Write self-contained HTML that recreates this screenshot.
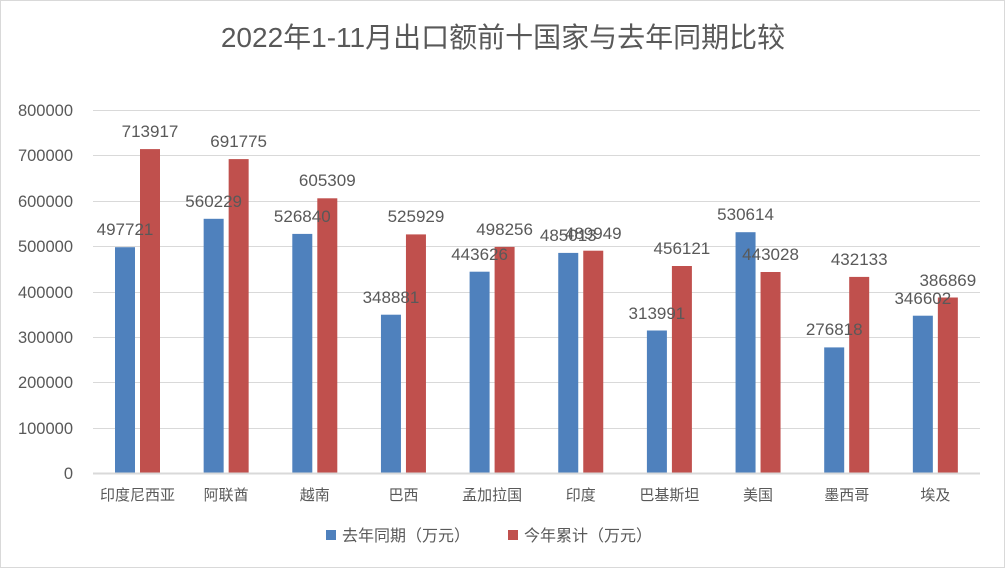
<!DOCTYPE html>
<html><head><meta charset="utf-8"><style>
body{margin:0;background:#fff}
svg text{font-family:"Liberation Sans","Noto Sans CJK SC",sans-serif;fill:#595959}
</style></head><body>
<svg width="1005" height="568" viewBox="0 0 1005 568" xmlns="http://www.w3.org/2000/svg">
<rect x="0.5" y="0.5" width="1004" height="567" fill="#fff" stroke="#d9d9d9"/>
<text x="503" y="47" text-anchor="middle" font-size="28">2022年1-11月出口额前十国家与去年同期比较</text>
<g stroke="#d9d9d9" stroke-width="1">
<line x1="93" x2="980" y1="110.5" y2="110.5"/><line x1="93" x2="980" y1="155.5" y2="155.5"/>
<line x1="93" x2="980" y1="201.5" y2="201.5"/><line x1="93" x2="980" y1="246.5" y2="246.5"/>
<line x1="93" x2="980" y1="292.5" y2="292.5"/><line x1="93" x2="980" y1="337.5" y2="337.5"/>
<line x1="93" x2="980" y1="382.5" y2="382.5"/><line x1="93" x2="980" y1="428.5" y2="428.5"/>
</g>
<g font-size="16.5" text-anchor="end">
<text x="73" y="116">800000</text><text x="73" y="161">700000</text><text x="73" y="207">600000</text>
<text x="73" y="252">500000</text><text x="73" y="298">400000</text><text x="73" y="343">300000</text>
<text x="73" y="388">200000</text><text x="73" y="434">100000</text><text x="73" y="479">0</text>
</g>
<g fill="#4f81bd">
<rect x="115" y="247.2" width="20" height="225.8"/>
<rect x="203.65" y="218.8" width="20" height="254.2"/>
<rect x="292.3" y="233.9" width="20" height="239.1"/>
<rect x="380.95" y="314.7" width="20" height="158.3"/>
<rect x="469.6" y="271.7" width="20" height="201.3"/>
<rect x="558.25" y="252.9" width="20" height="220.1"/>
<rect x="646.9" y="330.5" width="20" height="142.5"/>
<rect x="735.55" y="232.2" width="20" height="240.8"/>
<rect x="824.2" y="347.4" width="20" height="125.6"/>
<rect x="912.85" y="315.7" width="20" height="157.3"/>
</g>
<g fill="#c0504d">
<rect x="140" y="149.1" width="20" height="323.9"/>
<rect x="228.65" y="159.1" width="20" height="313.9"/>
<rect x="317.3" y="198.3" width="20" height="274.7"/>
<rect x="405.95" y="234.4" width="20" height="238.6"/>
<rect x="494.6" y="246.9" width="20" height="226.1"/>
<rect x="583.25" y="250.7" width="20" height="222.3"/>
<rect x="671.9" y="266" width="20" height="207"/>
<rect x="760.55" y="272" width="20" height="201"/>
<rect x="849.2" y="276.9" width="20" height="196.1"/>
<rect x="937.85" y="297.5" width="20" height="175.5"/>
</g>
<g font-size="17" text-anchor="middle">
<text x="125" y="235">497721</text><text x="150" y="137">713917</text>
<text x="213.65" y="207">560229</text><text x="238.65" y="147">691775</text>
<text x="302.3" y="222">526840</text><text x="327.3" y="186">605309</text>
<text x="390.95" y="303">348881</text><text x="415.95" y="222">525929</text>
<text x="479.6" y="260">443626</text><text x="504.6" y="235">498256</text>
<text x="568.25" y="241">485013</text><text x="593.25" y="239">489949</text>
<text x="656.9" y="319">313991</text><text x="681.9" y="254">456121</text>
<text x="745.55" y="220">530614</text><text x="770.55" y="260">443028</text>
<text x="834.2" y="335">276818</text><text x="859.2" y="265">432133</text>
<text x="922.85" y="304">346602</text><text x="947.85" y="286">386869</text>
</g>
<g font-size="15" text-anchor="middle">
<text x="137.5" y="500">印度尼西亚</text><text x="226.15" y="500">阿联酋</text>
<text x="314.8" y="500">越南</text><text x="403.45" y="500">巴西</text>
<text x="492.1" y="500">孟加拉国</text><text x="580.75" y="500">印度</text>
<text x="669.4" y="500">巴基斯坦</text><text x="758.05" y="500">美国</text>
<text x="846.7" y="500">墨西哥</text><text x="935.35" y="500">埃及</text>
</g>
<line x1="93" x2="980" y1="473.5" y2="473.5" stroke="#d9d9d9" stroke-width="2"/>
<rect x="326" y="530" width="10" height="10" fill="#4f81bd"/>
<text x="342" y="541" font-size="16">去年同期（万元）</text>
<rect x="508" y="530" width="10" height="10" fill="#c0504d"/>
<text x="524" y="541" font-size="16">今年累计（万元）</text>
</svg>
</body></html>
